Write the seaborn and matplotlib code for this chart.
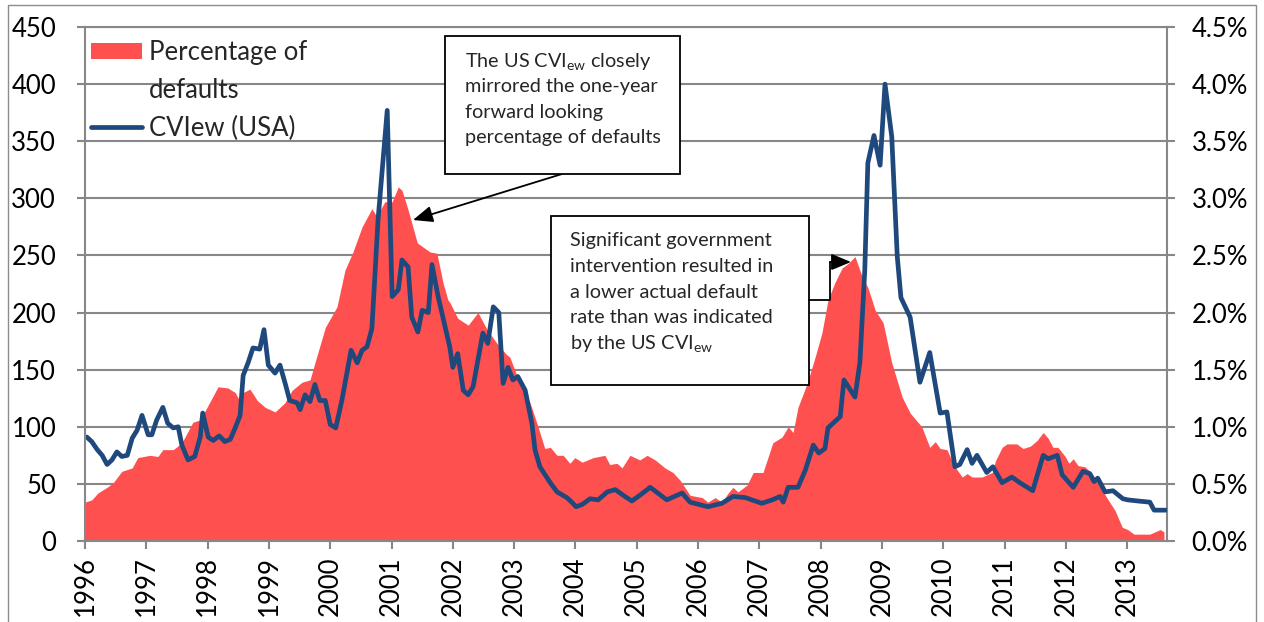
import matplotlib
matplotlib.use("Agg")
import matplotlib.pyplot as plt
import seaborn as sns
from matplotlib.patches import Rectangle, Patch
from matplotlib.lines import Line2D

# ---------------- data ----------------
cvi_dates = [
    1996.03, 1996.11, 1996.20, 1996.28, 1996.36, 1996.44, 1996.52, 1996.60, 1996.69, 1996.77, 1996.85, 1996.93,
    1997.03, 1997.09, 1997.17, 1997.27, 1997.35, 1997.44, 1997.52, 1997.58, 1997.68, 1997.79, 1997.88, 1997.92,
    1998.01, 1998.09, 1998.19, 1998.28, 1998.37, 1998.45, 1998.53, 1998.58, 1998.66, 1998.74, 1998.85, 1998.92, 1998.99,
    1999.10, 1999.18, 1999.26, 1999.34, 1999.46, 1999.51, 1999.59, 1999.67, 1999.75, 1999.83, 1999.92,
    2000.00, 2000.09, 2000.19, 2000.34, 2000.44, 2000.52, 2000.60, 2000.68, 2000.78, 2000.93,
    2001.01, 2001.11, 2001.17, 2001.27, 2001.33, 2001.43, 2001.50, 2001.60, 2001.66, 2001.76, 2001.91, 2001.95,
    2002.00, 2002.08, 2002.17, 2002.25, 2002.33, 2002.49, 2002.57, 2002.66, 2002.75, 2002.82, 2002.90, 2002.98,
    2003.06, 2003.18, 2003.29, 2003.34, 2003.42, 2003.59, 2003.70, 2003.86, 2003.94,
    2004.01, 2004.11, 2004.24, 2004.37, 2004.52, 2004.65, 2004.78, 2004.92,
    2005.05, 2005.22, 2005.49, 2005.74, 2005.87,
    2006.16, 2006.39, 2006.57, 2006.77,
    2007.04, 2007.21, 2007.34, 2007.39, 2007.47, 2007.63, 2007.75, 2007.88, 2007.97,
    2008.07, 2008.12, 2008.32, 2008.38, 2008.56, 2008.64, 2008.72, 2008.77, 2008.87, 2008.97,
    2009.05, 2009.16, 2009.25, 2009.31, 2009.46, 2009.62, 2009.78, 2009.95,
    2010.06, 2010.19, 2010.27, 2010.39, 2010.47, 2010.55, 2010.71, 2010.81, 2010.96,
    2011.12, 2011.25, 2011.46, 2011.63, 2011.71, 2011.86, 2011.94,
    2012.12, 2012.28, 2012.39, 2012.46, 2012.52, 2012.64, 2012.77, 2012.93,
    2013.01, 2013.18, 2013.37, 2013.44, 2013.63,
]
cvi_values = [
    91, 87, 80, 75, 67, 71, 78, 74, 75, 90, 97, 110,
    93, 93, 106, 117, 103, 99, 100, 84, 71, 74, 91, 112,
    91, 88, 92, 87, 89, 99, 110, 145, 156, 169, 168, 185, 154,
    147, 154, 139, 123, 121, 115, 128, 122, 137, 123, 123,
    102, 99, 123, 167, 156, 167, 170, 186, 281, 377,
    214, 220, 246, 240, 196, 183, 202, 200, 242, 214, 179, 170,
    152, 164, 132, 128, 135, 182, 173, 205, 200, 138, 152, 141,
    144, 132, 103, 80, 65, 51, 43, 38, 34,
    30, 32, 37, 36, 43, 45, 40, 35,
    40, 47, 36, 42, 34,
    30, 33, 39, 38,
    33, 36, 39, 34, 47, 47, 62, 84, 77,
    81, 99, 109, 141, 126, 156, 237, 331, 355, 329,
    400, 354, 249, 213, 196, 139, 165, 112,
    113, 65, 67, 80, 68, 75, 60, 65, 51,
    56, 51, 44, 75, 72, 75, 58,
    47, 61, 59, 52, 55, 43, 44, 37,
    36, 35, 34, 27, 27,
]
default_dates = [
    1996.00, 1996.11, 1996.21, 1996.36, 1996.46, 1996.60, 1996.77, 1996.86,
    1997.06, 1997.19, 1997.27, 1997.44, 1997.58, 1997.76, 1997.88,
    1998.01, 1998.17, 1998.33, 1998.45, 1998.50, 1998.58, 1998.69, 1998.81, 1998.94,
    1999.10, 1999.26, 1999.38, 1999.54, 1999.67, 1999.75, 1999.92,
    2000.11, 2000.24, 2000.37, 2000.52, 2000.68, 2000.76, 2000.89,
    2001.01, 2001.11, 2001.17, 2001.27, 2001.42, 2001.55, 2001.63, 2001.74, 2001.84, 2001.92, 2001.95,
    2002.08, 2002.25, 2002.41, 2002.56, 2002.72, 2002.88, 2002.93,
    2003.05, 2003.26, 2003.39, 2003.50, 2003.59, 2003.70, 2003.80, 2003.91, 2003.99,
    2004.11, 2004.29, 2004.48, 2004.56, 2004.68, 2004.76, 2004.89, 2004.97,
    2005.05, 2005.17, 2005.30, 2005.46, 2005.59, 2005.71, 2005.87,
    2006.07, 2006.16, 2006.28, 2006.39, 2006.49, 2006.57, 2006.65, 2006.80, 2006.90,
    2007.06, 2007.22, 2007.37, 2007.47, 2007.55, 2007.63, 2007.78, 2007.91,
    2008.02, 2008.12, 2008.23, 2008.35, 2008.45, 2008.56, 2008.68, 2008.77, 2008.89,
    2009.02, 2009.16, 2009.33, 2009.46, 2009.65, 2009.78, 2009.87, 2009.95,
    2010.06, 2010.19, 2010.31, 2010.39, 2010.47, 2010.63, 2010.80, 2010.85, 2010.96,
    2011.04, 2011.20, 2011.30, 2011.42, 2011.53, 2011.63, 2011.71, 2011.79, 2011.87, 2011.99,
    2012.05, 2012.12, 2012.20, 2012.31, 2012.43, 2012.52, 2012.69, 2012.80, 2012.92,
    2013.01, 2013.11, 2013.37, 2013.54, 2013.60,
]
default_pct = [
    0.34, 0.36, 0.42, 0.47, 0.51, 0.61, 0.64, 0.73,
    0.75, 0.74, 0.80, 0.80, 0.86, 1.04, 1.06,
    1.19, 1.35, 1.34, 1.30, 1.25, 1.30, 1.33, 1.23, 1.17,
    1.13, 1.21, 1.32, 1.39, 1.41, 1.56, 1.87,
    2.05, 2.37, 2.53, 2.75, 2.91, 2.84, 2.97,
    2.97, 3.10, 3.07, 2.90, 2.61, 2.56, 2.53, 2.52, 2.26, 2.11, 2.09,
    1.95, 1.89, 2.00, 1.85, 1.73, 1.63, 1.61,
    1.44, 1.21, 1.00, 0.81, 0.82, 0.75, 0.75, 0.68, 0.73,
    0.69, 0.73, 0.75, 0.67, 0.68, 0.64, 0.75, 0.73,
    0.71, 0.75, 0.71, 0.64, 0.60, 0.53, 0.40,
    0.38, 0.34, 0.38, 0.34, 0.42, 0.47, 0.43, 0.49, 0.60,
    0.60, 0.86, 0.91, 1.00, 0.95, 1.17, 1.38, 1.61,
    1.82, 2.11, 2.26, 2.39, 2.43, 2.49, 2.31, 2.22, 2.02,
    1.91, 1.56, 1.26, 1.12, 1.00, 0.82, 0.87, 0.81,
    0.80, 0.65, 0.56, 0.59, 0.56, 0.56, 0.60, 0.70, 0.82,
    0.85, 0.85, 0.81, 0.83, 0.88, 0.95, 0.90, 0.82, 0.82, 0.74,
    0.68, 0.72, 0.66, 0.65, 0.59, 0.51, 0.36, 0.27, 0.12,
    0.10, 0.06, 0.06, 0.10, 0.08,
]
years = list(range(1996, 2014))
cvi_ticks = list(range(0, 451, 50))
pct_ticks = [0.0, 0.5, 1.0, 1.5, 2.0, 2.5, 3.0, 3.5, 4.0, 4.5]
legend_default_lines = ["Percentage of", "defaults"]
legend_cvi = "CVIew (USA)"
note1_lines = ["The US CVI$_{ew}$ closely", "mirrored the one-year",
               "forward looking", "percentage of defaults"]
note2_lines = ["Significant government", "intervention resulted in",
               "a lower actual default", "rate than was indicated",
               "by the US CVI$_{ew}$"]

# ---------------- styling ----------------
RED = "#FF5050"
BLUE = "#1F497D"
GRID = "#878787"
W, H = 1264, 622

sns.set_style("white")
plt.rcParams["font.family"] = ["Lato", "DejaVu Sans"]
plt.rcParams["mathtext.fontset"] = "custom"
plt.rcParams["mathtext.rm"] = "Lato"
plt.rcParams["mathtext.it"] = "Lato:italic"
plt.rcParams["mathtext.default"] = "regular"

fig = plt.figure(figsize=(W / 100, H / 100), dpi=100)
fig.patch.set_facecolor("white")
L, R, T, B = 85, 1167, 27, 541
ax = fig.add_axes([L / W, 1 - B / H, (R - L) / W, (B - T) / H])
ax2 = ax.twinx()
ax.set_zorder(3)
ax2.set_zorder(1)
ax.patch.set_visible(False)
ax2.patch.set_visible(True)
ax2.patch.set_facecolor("white")

# red area (right axis, %)
ax2.fill_between(default_dates, default_pct, 0, color=RED, linewidth=0, zorder=2)
ax2.set_ylim(0, 4.5)
ax2.set_yticks(pct_ticks)
ax2.set_yticklabels([f"{v:.1f}%" for v in pct_ticks])
ax2.set_axisbelow(True)
ax2.grid(axis="y", color=GRID, linewidth=1.5)
ax2.grid(axis="x", visible=False)

# blue line (left axis)
sns.lineplot(x=cvi_dates, y=cvi_values, ax=ax, color=BLUE, linewidth=3.4)
for ln in ax.lines:
    ln.set_solid_joinstyle("round")
    ln.set_solid_capstyle("round")
ax.set_ylim(0, 450)
ax.set_yticks(cvi_ticks)
ax.set_yticklabels([str(v) for v in cvi_ticks])
ax.set_xlim(1996, 2013.65)
ax.set_xticks(years)
ax.set_xticklabels([str(y) for y in years], rotation=90)
ax.grid(False)

for a in (ax, ax2):
    for s in a.spines.values():
        s.set_visible(False)
for s in ("left", "bottom", "top"):
    ax.spines[s].set_visible(True)
    ax.spines[s].set_color(GRID)
    ax.spines[s].set_linewidth(1.5)
ax2.spines["right"].set_visible(True)
ax2.spines["right"].set_color(GRID)
ax2.spines["right"].set_linewidth(1.5)

FS = 18.5
ax.tick_params(axis="y", which="both", direction="out", length=5.8, width=1.5,
               color=GRID, pad=15, labelsize=FS, labelcolor="black", left=True)
ax.tick_params(axis="x", which="both", direction="out", length=5.8, width=1.5,
               color=GRID, pad=5, labelsize=FS, labelcolor="black", bottom=True)
ax2.tick_params(axis="y", which="both", direction="out", length=5.8, width=1.5,
                color=GRID, pad=12, labelsize=FS, labelcolor="black", right=True)

# legend
handles = [Patch(facecolor=RED, edgecolor="none"),
           Line2D([], [], alpha=0),
           Line2D([], [], color=BLUE, linewidth=3.4)]
labels = legend_default_lines + [legend_cvi]
leg = ax.legend(handles, labels, loc="upper left",
                bbox_to_anchor=(91 / W, 1 - 40 / H), bbox_transform=fig.transFigure,
                frameon=False, fontsize=FS, handlelength=2.0, handleheight=0.6,
                handletextpad=0.25, labelspacing=0.5, borderpad=0, borderaxespad=0)

# annotation boxes
def fx(x):
    return x / W

def fy(y):
    return 1 - y / H

for (x0, y0, x1, y1) in [(445, 36, 680, 174), (551, 216, 809, 385)]:
    fig.add_artist(Rectangle((fx(x0), fy(y1)), fx(x1) - fx(x0), fy(y0) - fy(y1),
                             transform=fig.transFigure, facecolor="white",
                             edgecolor="black", linewidth=1.3, zorder=10))

TFS = 14.3
for line, yb in zip(note1_lines, [67, 92, 118, 143]):
    fig.text(fx(465), fy(yb), line, fontsize=TFS, va="baseline", ha="left", zorder=11)
for line, yb in zip(note2_lines, [246, 272, 298, 323, 349]):
    fig.text(fx(570), fy(yb), line, fontsize=TFS, va="baseline", ha="left", zorder=11)

# arrows
ax.annotate("", xy=(413, H - 220), xycoords="figure pixels",
            xytext=(562, H - 174), textcoords="figure pixels",
            arrowprops=dict(arrowstyle="-|>,head_length=0.6,head_width=0.25",
                            mutation_scale=20, color="black", lw=1.3,
                            shrinkA=0, shrinkB=0),
            annotation_clip=False)
fig.add_artist(Line2D([fx(809), fx(830), fx(830), fx(836)],
                      [fy(300), fy(300), fy(262), fy(262)],
                      transform=fig.transFigure, color="black", linewidth=1.3, zorder=12))
ax.annotate("", xy=(851, H - 262), xycoords="figure pixels",
            xytext=(830, H - 262), textcoords="figure pixels",
            arrowprops=dict(arrowstyle="-|>,head_length=0.6,head_width=0.25",
                            mutation_scale=20, color="black", lw=1.3,
                            shrinkA=0, shrinkB=0),
            annotation_clip=False)

# outer chart border
fig.add_artist(Rectangle((fx(8), -0.02), fx(1256) - fx(8), fy(5) + 0.02,
                         transform=fig.transFigure, fill=False,
                         edgecolor="#8C8C8C", linewidth=1.0, zorder=20))

fig.savefig("out.png", dpi=100)
